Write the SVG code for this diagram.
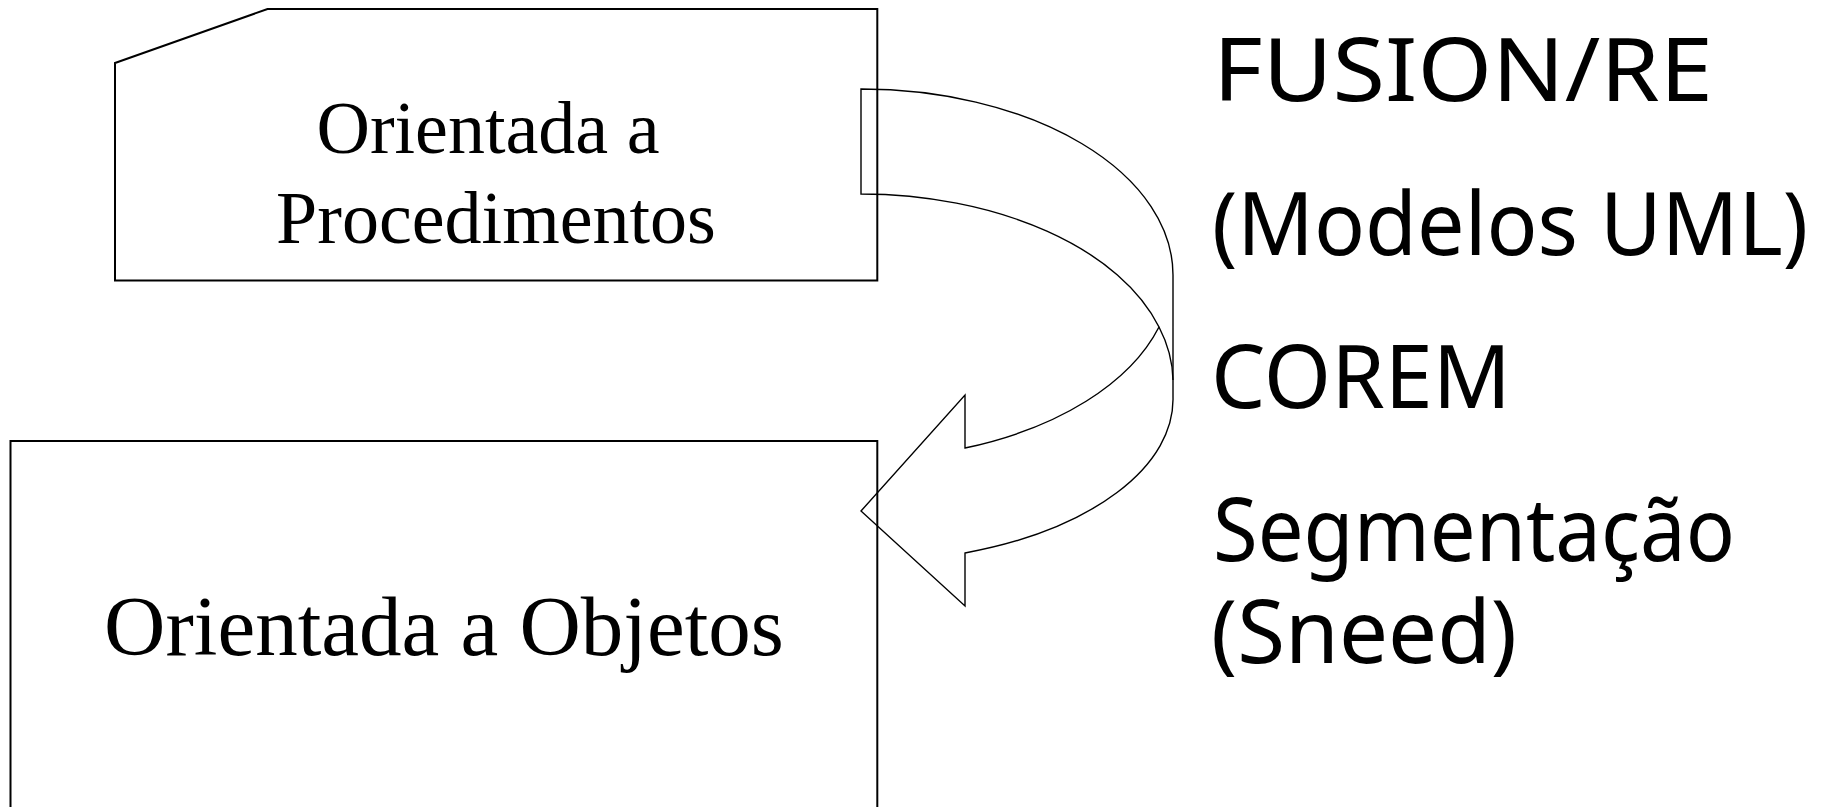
<svg xmlns="http://www.w3.org/2000/svg" width="1832" height="807" viewBox="0 0 1832 807">
  <style>
    .box { fill: #ffffff; stroke: #000000; stroke-width: 2; }
    .arrow { fill: none; stroke: #000000; stroke-width: 1.4; stroke-linejoin: miter; }
    .serif { font-family: "Liberation Serif", "Times New Roman", serif; fill: #000000; text-anchor: middle; }
    .hand { font-family: "Noto Sans", "DejaVu Sans", sans-serif; font-size: 87px; fill: #000000; }
  </style>
  <rect width="1832" height="807" fill="#ffffff"/>

  <g id="node-procedimentos">
    <polygon class="box" points="115,63 267.5,9 877.3,9 877.3,280.5 115,280.5"/>
    <text class="serif" font-size="74" x="488" y="153">Orientada a</text>
    <text class="serif" font-size="74" x="496" y="243">Procedimentos</text>
  </g>

  <g id="node-objetos">
    <rect class="box" x="10.5" y="441" width="866.8" height="400"/>
    <text class="serif" font-size="85" x="444" y="655">Orientada a Objetos</text>
  </g>

  <g id="connectors">
    <path class="arrow" d="M 861 89 A 312 186 0 0 1 1173 275 L 1173 397 A 312 163 0 0 1 965 553 L 965 606 L 861 511 L 965 395 L 965 448 A 312 186 0 0 0 1159 327 A 312 186 0 0 0 861 194 Z"/>
    <path class="arrow" d="M 1159 327 A 312 186 0 0 1 1173 380"/>
  </g>

  <g id="techniques">
    <text class="hand" x="1213" y="101" textLength="500" lengthAdjust="spacingAndGlyphs">FUSION/RE</text>
    <text class="hand" x="1212" y="255" textLength="596" lengthAdjust="spacingAndGlyphs">(Modelos UML)</text>
    <text class="hand" x="1211" y="408" textLength="300" lengthAdjust="spacingAndGlyphs">COREM</text>
    <text class="hand" x="1213" y="561" textLength="522" lengthAdjust="spacingAndGlyphs">Segmentação</text>
    <text class="hand" x="1211" y="663" textLength="306" lengthAdjust="spacingAndGlyphs">(Sneed)</text>
  </g>
</svg>
